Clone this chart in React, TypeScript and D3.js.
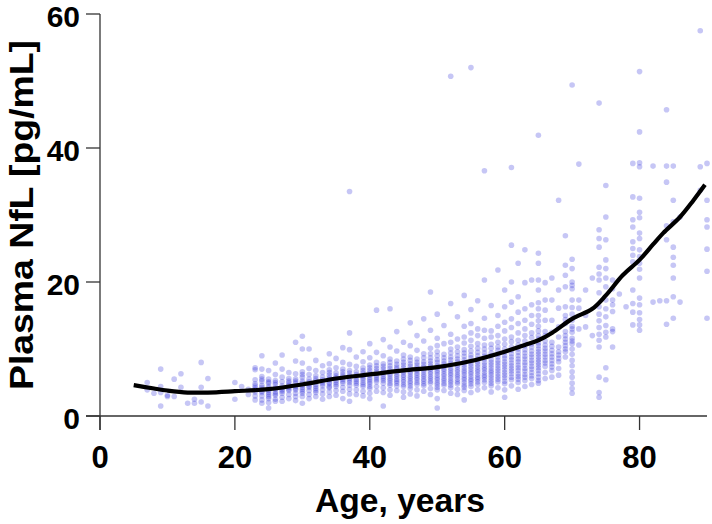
import React from "react";
import * as d3 from "d3";

// Scatter data: integer ages and the NfL values observed at each age
const ageColumns = [
  7, 8, 9, 10, 11, 12, 13, 14, 15, 16, 20, 21, 22,
  23, 24, 25, 26, 27, 28, 29, 30, 31, 32, 33, 34, 35, 36, 37, 38, 39,
  40, 41, 42, 43, 44, 45, 46, 47, 48, 49, 50, 51, 52, 53, 54, 55, 56, 57, 58, 59,
  60, 61, 62, 63, 64, 65, 66, 67, 68, 69, 70, 71, 72, 73, 74, 75, 76, 77, 78, 79,
  80, 82, 83, 84, 85, 86, 89, 90,
];

const nflByAge = [
  [5.0, 3.9], [3.4], [7.0, 3.5, 1.5, 4.4], [2.9, 3.1], [5.5, 2.9], [6.3, 4.3],
  [1.9], [2.5, 1.9], [8.0, 4.3, 2.1], [5.6, 1.5], [5.0, 2.5], [4.4], [4.0, 3.2],
  [7.2, 6.9, 5.4, 4.8, 4.2, 3.6, 3.0, 2.4, 3.9, 4.5],
  [9.0, 7.0, 5.9, 5.2, 4.6, 4.0, 3.5, 3.0, 2.4, 1.9, 4.3, 3.7, 5.5],
  [6.8, 5.5, 4.9, 4.4, 3.8, 3.2, 2.6, 2.0, 1.2, 4.1, 3.5, 5.1, 2.9],
  [7.9, 6.2, 5.3, 4.7, 4.2, 3.6, 3.1, 2.5, 4.0, 3.3, 5.0, 2.2],
  [9.1, 7.0, 5.8, 5.1, 4.5, 3.9, 3.4, 2.8, 2.2, 4.2, 3.7],
  [6.5, 5.6, 4.9, 4.3, 3.8, 3.2, 2.6, 4.6, 4.0, 5.2],
  [11.0, 8.2, 6.3, 5.5, 4.9, 4.4, 3.9, 3.4, 2.9, 2.3, 4.1, 5.2],
  [11.9, 10.0, 7.9, 6.6, 5.8, 5.2, 4.6, 4.0, 3.4, 2.9, 1.9, 4.3, 4.9, 3.7, 6.2],
  [10.0, 7.1, 6.2, 5.5, 4.8, 4.3, 3.8, 3.2, 2.6, 5.1, 4.5],
  [8.3, 6.8, 6.0, 5.3, 4.7, 4.1, 3.5, 2.9, 5.6, 4.4, 3.8],
  [7.5, 6.5, 5.8, 5.1, 4.5, 3.9, 3.3, 2.5, 5.4, 4.8],
  [9.3, 7.8, 6.9, 6.1, 5.4, 4.8, 4.2, 3.6, 2.9, 5.7, 5.0, 4.4, 6.5],
  [8.6, 7.2, 6.4, 5.7, 5.0, 4.4, 3.8, 3.1, 6.0, 5.3, 4.7],
  [10.2, 8.0, 7.0, 6.2, 5.5, 4.9, 4.3, 3.7, 2.6, 5.9, 5.2, 6.6],
  [33.5, 12.4, 9.9, 7.7, 6.8, 6.0, 5.3, 4.6, 4.0, 3.3, 2.2, 5.6, 6.4, 5.0],
  [8.8, 7.4, 6.6, 5.9, 5.2, 4.6, 3.9, 3.2, 6.2, 5.5, 4.9],
  [9.6, 8.1, 7.2, 6.4, 5.7, 5.0, 4.4, 3.7, 3.0, 6.0, 5.4, 6.8, 4.7],
  [10.8, 8.7, 7.6, 6.8, 6.1, 5.4, 4.8, 4.1, 3.4, 2.6, 6.4, 5.7, 5.1, 7.2, 4.4],
  [15.8, 9.5, 8.0, 7.1, 6.4, 5.7, 5.1, 4.4, 3.7, 6.7, 6.0, 5.4, 7.5],
  [11.4, 9.0, 7.8, 7.0, 6.3, 5.6, 4.9, 4.2, 3.5, 6.6, 5.9, 5.3, 7.4, 1.5],
  [16.0, 10.3, 8.5, 7.5, 6.7, 6.0, 5.3, 4.6, 3.9, 3.1, 7.1, 6.3, 5.6, 8.0, 4.9],
  [12.6, 9.7, 8.2, 7.3, 6.6, 5.9, 5.2, 4.5, 3.8, 7.0, 6.2, 5.5, 7.7, 4.9],
  [11.0, 9.1, 8.0, 7.2, 6.5, 5.8, 5.1, 4.4, 3.6, 2.8, 6.8, 6.1, 5.4, 7.6, 4.7, 8.5],
  [13.9, 10.5, 8.8, 7.8, 7.0, 6.3, 5.6, 4.9, 4.1, 3.3, 7.4, 6.6, 5.9, 8.3, 5.2, 4.5],
  [12.0, 9.8, 8.5, 7.6, 6.8, 6.1, 5.4, 4.7, 3.9, 3.0, 7.2, 6.4, 5.7, 8.0, 5.0],
  [14.5, 11.2, 9.3, 8.1, 7.3, 6.6, 5.9, 5.2, 4.5, 3.7, 7.7, 6.9, 6.2, 8.7, 5.5, 4.8],
  [18.5, 12.8, 10.1, 8.7, 7.8, 7.0, 6.3, 5.6, 4.9, 4.1, 3.2, 8.2, 7.4, 6.6, 9.3, 5.9, 5.2],
  [15.2, 11.6, 9.6, 8.4, 7.5, 6.8, 6.1, 5.4, 4.7, 3.9, 2.6, 1.2, 8.0, 7.2, 6.5, 9.0, 5.7, 5.0, 10.5, 4.3],
  [13.5, 10.8, 9.2, 8.2, 7.4, 6.7, 6.0, 5.3, 4.6, 3.8, 7.8, 7.0, 6.3, 8.7, 5.6, 4.9],
  [50.7, 16.8, 12.2, 10.0, 8.8, 7.9, 7.1, 6.4, 5.7, 5.0, 4.2, 3.4, 8.4, 7.6, 6.8, 9.4, 6.1, 5.3, 11.0, 4.6],
  [14.8, 11.5, 9.6, 8.5, 7.6, 6.9, 6.2, 5.5, 4.8, 4.0, 3.2, 8.1, 7.3, 6.6, 9.0, 5.9, 5.1, 10.3],
  [18.0, 13.4, 10.9, 9.4, 8.4, 7.6, 6.8, 6.1, 5.4, 4.6, 3.8, 2.4, 8.9, 8.0, 7.2, 9.9, 6.5, 5.7, 11.8, 5.0, 4.3],
  [52.0, 15.9, 12.4, 10.4, 9.1, 8.2, 7.4, 6.6, 5.9, 5.2, 4.4, 3.5, 8.7, 7.8, 7.0, 9.7, 6.3, 5.5, 11.3, 4.8, 13.8],
  [17.2, 13.0, 10.8, 9.5, 8.5, 7.7, 6.9, 6.2, 5.5, 4.7, 3.9, 9.0, 8.1, 7.3, 10.1, 6.6, 5.8, 12.0, 5.1],
  [36.6, 20.3, 14.6, 11.6, 10.0, 8.9, 8.0, 7.2, 6.5, 5.8, 5.0, 4.2, 9.4, 8.5, 7.6, 10.6, 6.9, 6.1, 12.8, 5.4],
  [16.5, 12.7, 10.7, 9.4, 8.4, 7.6, 6.8, 6.1, 5.3, 4.5, 3.6, 9.0, 8.0, 7.2, 10.1, 6.5, 5.7, 11.8, 4.9],
  [21.8, 15.0, 12.0, 10.3, 9.2, 8.3, 7.5, 6.7, 5.9, 5.1, 4.2, 9.8, 8.8, 7.9, 11.0, 7.1, 6.3, 13.4, 5.5],
  [18.8, 14.0, 11.5, 10.0, 9.0, 8.1, 7.3, 6.5, 5.7, 4.8, 3.9, 9.5, 8.6, 7.7, 10.7, 6.9, 6.1, 12.7, 5.2, 16.3, 2.8],
  [37.1, 25.5, 17.0, 13.2, 11.1, 9.8, 8.8, 7.9, 7.1, 6.3, 5.4, 4.5, 10.3, 9.3, 8.4, 11.8, 7.5, 6.7, 14.5, 5.8, 20.0],
  [22.8, 15.5, 12.4, 10.6, 9.5, 8.5, 7.6, 6.8, 5.9, 5.0, 4.0, 10.0, 9.0, 8.1, 11.3, 7.2, 6.3, 13.8, 5.5, 17.8],
  [24.8, 19.9, 16.0, 13.0, 11.2, 9.9, 8.9, 8.0, 7.1, 6.2, 5.3, 4.4, 10.5, 9.4, 8.5, 12.0, 7.6, 6.7, 14.3, 5.8],
  [20.3, 16.6, 13.7, 11.7, 10.3, 9.2, 8.3, 7.4, 6.5, 5.6, 4.7, 10.8, 9.7, 8.8, 12.4, 7.9, 7.0, 15.0, 6.0],
  [41.9, 24.3, 22.8, 20.3, 18.8, 16.9, 15.0, 13.4, 12.0, 10.9, 10.0, 9.2, 8.4, 7.6, 6.8, 5.8, 4.9, 11.5, 10.5, 9.6, 8.8, 8.0, 7.2, 12.7, 14.2, 6.3, 16.0, 5.3],
  [19.9, 17.3, 15.8, 14.3, 12.6, 11.2, 10.1, 9.2, 8.3, 7.4, 6.5, 5.6, 10.6, 9.7, 8.8, 7.9, 12.0],
  [20.6, 17.3, 14.3, 12.5, 11.0, 9.8, 8.8, 7.8, 6.8, 5.8, 10.4, 9.3, 8.3, 7.3],
  [32.2, 18.8, 16.1, 13.3, 11.8, 10.3, 9.1, 8.1, 7.1, 6.1, 9.6, 8.6],
  [26.9, 22.5, 21.0, 19.3, 16.3, 15.0, 13.8, 12.6, 11.5, 10.5, 9.6, 8.8, 14.4, 12.0, 11.0, 10.0],
  [49.4, 23.4, 22.0, 20.0, 19.5, 19.0, 17.3, 16.2, 15.2, 14.3, 13.4, 12.5, 11.6, 10.8, 10.0, 9.2, 8.3, 7.5, 6.6, 5.8, 4.9, 4.1, 3.4, 13.0, 11.2],
  [37.6, 17.3, 16.1, 10.6, 13.0],
  [18.8, 13.3, 15.0],
  [20.6, 12.0],
  [46.7, 27.8, 26.5, 25.2, 22.2, 21.2, 20.3, 18.4, 16.3, 15.2, 14.2, 13.2, 12.2, 11.3, 10.3, 5.8, 3.5, 2.8],
  [34.4, 29.7, 26.3, 23.3, 22.0, 20.6, 19.3, 17.3, 16.0, 14.8, 13.5, 12.5, 11.8, 7.2, 5.4],
  [20.3, 19.0, 17.3, 16.6, 13.0, 12.6, 10.3, 15.6],
  [18.2],
  [16.3],
  [37.7, 32.7, 29.3, 28.2, 26.0, 25.0, 24.0, 23.0, 18.8, 16.8, 15.5, 13.6],
  [51.4, 42.4, 37.8, 37.2, 32.5, 30.4, 29.6, 27.3, 26.5, 24.8, 23.8, 22.8, 21.9, 20.6, 17.6, 16.6, 15.4, 14.4, 13.6, 12.8],
  [37.3, 17.0],
  [17.2],
  [45.7, 37.3, 34.9, 28.4, 26.3, 17.2, 13.7],
  [37.3, 32.2, 29.0, 25.2, 23.7, 22.5, 20.6, 17.8, 14.6],
  [29.7, 17.0],
  [57.5, 37.2, 33.7],
  [37.7, 32.2, 29.3, 28.2, 24.9, 21.6, 14.6],
];

// Smoothed trend line
const trendAges = [5, 8, 10, 13, 16, 20, 25, 30, 35, 40, 45, 50, 55, 60, 63, 65, 67, 70, 73, 75, 77.5, 80, 82, 83.5, 86, 88, 89.7];
const trendValues = [4.6, 4.1, 3.8, 3.5, 3.5, 3.7, 4.0, 4.7, 5.6, 6.2, 6.8, 7.3, 8.2, 9.6, 10.6, 11.3, 12.4, 14.5, 16.0, 18.0, 21.0, 23.3, 25.6, 27.3, 29.7, 32.2, 34.5];

const xTicks = [0, 20, 40, 60, 80];
const yTicks = [0, 20, 40, 60];

export default function App() {
  const W = 712, H = 524;
  const x = d3.scaleLinear().domain([0, 90]).range([100, 707]);
  const y = d3.scaleLinear().domain([0, 60]).range([416, 14]);

  const points: { a: number; v: number }[] = [];
  ageColumns.forEach((a, i) => nflByAge[i].forEach((v) => points.push({ a, v })));

  const line = d3
    .line<number>()
    .x((_, i) => x(trendAges[i]))
    .y((d) => y(d))
    .curve(d3.curveCatmullRom.alpha(0.5));

  const font = "'Liberation Sans', Arial, Helvetica, sans-serif";

  return (
    <svg width={W} height={H} style={{ position: "absolute", left: 0, top: 0, background: "#fff" }}>
      <g>
        {points.map((p, i) => (
          <circle key={i} cx={x(p.a)} cy={y(p.v)} r={2.8} fill="#1a1ad6" fillOpacity={0.25} />
        ))}
      </g>
      <path d={line(trendValues) || ""} fill="none" stroke="#000" strokeWidth={4.2} strokeLinejoin="round" />
      <line x1={x(0)} x2={x(0)} y1={y(60)} y2={430} stroke="#333" strokeWidth={1.3} />
      <line x1={86} x2={x(90)} y1={y(0)} y2={y(0)} stroke="#333" strokeWidth={1.3} />
      {yTicks.map((t) => (
        <g key={"y" + t}>
          <line x1={86} x2={x(0)} y1={y(t)} y2={y(t)} stroke="#333" strokeWidth={1.3} />
          <text x={80} y={y(t) + 13.4} textAnchor="end" fontFamily={font} fontWeight="bold" fontSize={30} fill="#000">{t}</text>
        </g>
      ))}
      {xTicks.map((t) => (
        <g key={"x" + t}>
          <line x1={x(t)} x2={x(t)} y1={y(0)} y2={430} stroke="#333" strokeWidth={1.3} />
          <text x={x(t)} y={468} textAnchor="middle" fontFamily={font} fontWeight="bold" fontSize={31} fill="#000">{t}</text>
        </g>
      ))}
      <text x={400} y={512} textAnchor="middle" fontFamily={font} fontWeight="bold" fontSize={34} textLength={170} lengthAdjust="spacingAndGlyphs" fill="#000">Age, years</text>
      <text transform="translate(33,215) rotate(-90)" textAnchor="middle" fontFamily={font} fontWeight="bold" fontSize={34} textLength={350} lengthAdjust="spacingAndGlyphs" fill="#000">Plasma NfL [pg/mL]</text>
    </svg>
  );
}
